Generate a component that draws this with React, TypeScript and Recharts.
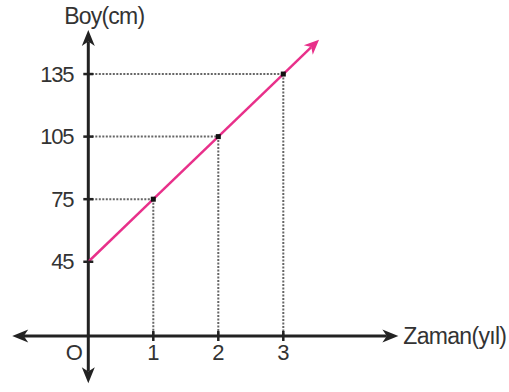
import React from 'react';
import { LineChart, Line, XAxis, YAxis, ReferenceLine } from 'recharts';

// ---- data ----
const years = [0, 1, 2, 3];
const heights = [45, 75, 105, 135];
const yTicks = [45, 75, 105, 135];
const xTicks = [0, 1, 2, 3];
const xTickLabels = ['O', '1', '2', '3'];
const trendTip = { x: 3.55, y: 151.5 };
const xAxisTitle = 'Zaman(yıl)';
const yAxisTitle = 'Boy(cm)';

// ---- layout (axis extents, in data units) ----
const X_DOMAIN: [number, number] = [0, 5];
const Y_DOMAIN: [number, number] = [9.4, 160];
const X_AXIS_LEVEL = 9.4;
const X_AXIS_EXTENT: [number, number] = [-1.17, 4.77];
const Y_AXIS_EXTENT: [number, number] = [-13.2, 156.1];

const table = years.map((y, i) => ({ year: y, height: heights[i] }));

const AXIS_COLOR = '#222';
const PINK = '#e8308a';
const FONT = '"Liberation Sans", Arial, Helvetica, sans-serif';
const TEXT_COLOR = '#333';

function arrowPoints(tx: number, ty: number, fx: number, fy: number, len: number, hw: number) {
  const dx = tx - fx;
  const dy = ty - fy;
  const d = Math.sqrt(dx * dx + dy * dy) || 1;
  const ux = dx / d;
  const uy = dy / d;
  const px = -uy;
  const py = ux;
  const bx = tx - ux * len;
  const by = ty - uy * len;
  const nx = tx - ux * len * 0.72;
  const ny = ty - uy * len * 0.72;
  return {
    pts: `${tx},${ty} ${bx + px * hw},${by + py * hw} ${nx},${ny} ${bx - px * hw},${by - py * hw}`,
    nx,
    ny,
  };
}

const XAxisShape = (p: any) => {
  const { x1, y1, x2, y2 } = p;
  const a = arrowPoints(x2, y2, x1, y1, 16, 6.5);
  const b = arrowPoints(x1, y1, x2, y2, 16, 6.5);
  return (
    <g>
      <line x1={b.nx} y1={b.ny} x2={a.nx} y2={a.ny} stroke={AXIS_COLOR} strokeWidth={3} />
      <polygon points={a.pts} fill={AXIS_COLOR} />
      <polygon points={b.pts} fill={AXIS_COLOR} />
      <text
        x={x2 + 5}
        y={y2}
        dominantBaseline="central"
        fontFamily={FONT}
        fontSize={23}
        letterSpacing={-0.7}
        fill={TEXT_COLOR}
      >
        {xAxisTitle}
      </text>
    </g>
  );
};

const YAxisShape = (p: any) => {
  const { x1, y1, x2, y2 } = p;
  const a = arrowPoints(x2, y2, x1, y1, 16, 6.5);
  const b = arrowPoints(x1, y1, x2, y2, 16, 6.5);
  return (
    <g>
      <line x1={b.nx} y1={b.ny} x2={a.nx} y2={a.ny} stroke={AXIS_COLOR} strokeWidth={3} />
      <polygon points={a.pts} fill={AXIS_COLOR} />
      <polygon points={b.pts} fill={AXIS_COLOR} />
      <text
        x={x2 + 16}
        y={y2 - 6}
        textAnchor="middle"
        fontFamily={FONT}
        fontSize={23}
        letterSpacing={-0.8}
        fill={TEXT_COLOR}
      >
        {yAxisTitle}
      </text>
    </g>
  );
};

const TrendArrowShape = (p: any) => {
  const { x1, y1, x2, y2 } = p;
  const a = arrowPoints(x2, y2, x1, y1, 15, 6.5);
  return (
    <g>
      <line x1={x1} y1={y1} x2={a.nx} y2={a.ny} stroke={PINK} strokeWidth={2.5} />
      <polygon points={a.pts} fill={PINK} />
    </g>
  );
};

const YTick = (p: any) => {
  const { x, y, payload } = p;
  return (
    <g>
      <line x1={x - 5} x2={x + 5} y1={y} y2={y} stroke={AXIS_COLOR} strokeWidth={2.5} />
      <text
        x={x - 15}
        y={y}
        textAnchor="end"
        dominantBaseline="central"
        fontFamily={FONT}
        fontSize={22}
        letterSpacing={-1.2}
        fill={TEXT_COLOR}
      >
        {payload.value}
      </text>
    </g>
  );
};

const XTick = (p: any) => {
  const { x, y, payload, index } = p;
  const label = xTickLabels[index] ?? String(payload.value);
  const isOrigin = payload.value === 0;
  return (
    <g>
      {!isOrigin && (
        <line x1={x} x2={x} y1={y - 5} y2={y + 5} stroke={AXIS_COLOR} strokeWidth={2.5} />
      )}
      <text
        x={isOrigin ? x - 14 : x}
        y={y + 16}
        textAnchor="middle"
        dominantBaseline="central"
        fontFamily={FONT}
        fontSize={22}
        fill={TEXT_COLOR}
      >
        {label}
      </text>
    </g>
  );
};

const PointDot = (p: any) => {
  const { cx, cy, index } = p;
  if (index === 0) return <g key={`d${index}`} />;
  return <rect key={`d${index}`} x={cx - 2.5} y={cy - 2.5} width={5} height={5} fill="#111" />;
};

export default function App() {
  return (
    <div style={{ position: 'absolute', left: 0, top: 0 }}>
      <LineChart
        width={509}
        height={392}
        data={table}
        margin={{ top: 21.9, right: 95.7, bottom: 26, left: 28.3 }}
      >
        <XAxis
          dataKey="year"
          type="number"
          domain={X_DOMAIN}
          allowDataOverflow
          ticks={xTicks}
          axisLine={false}
          tickLine={false}
          tickSize={0}
          tickMargin={0}
          height={30}
          tick={<XTick />}
          interval={0}
        />
        <YAxis
          type="number"
          domain={Y_DOMAIN}
          allowDataOverflow
          ticks={yTicks}
          axisLine={false}
          tickLine={false}
          tickSize={0}
          tickMargin={0}
          width={60}
          tick={<YTick />}
          interval={0}
        />
        {years.slice(1).map((yr, i) => (
          <ReferenceLine
            key={`h${yr}`}
            segment={[
              { x: 0, y: heights[i + 1] },
              { x: yr, y: heights[i + 1] },
            ]}
            stroke="#666"
            strokeWidth={2}
            strokeDasharray="2 1.5"
            ifOverflow="visible"
          />
        ))}
        {years.slice(1).map((yr, i) => (
          <ReferenceLine
            key={`v${yr}`}
            segment={[
              { x: yr, y: heights[i + 1] },
              { x: yr, y: X_AXIS_LEVEL },
            ]}
            stroke="#666"
            strokeWidth={2}
            strokeDasharray="2 1.5"
            ifOverflow="visible"
          />
        ))}
        <ReferenceLine
          segment={[
            { x: X_AXIS_EXTENT[0], y: X_AXIS_LEVEL },
            { x: X_AXIS_EXTENT[1], y: X_AXIS_LEVEL },
          ]}
          ifOverflow="visible"
          shape={<XAxisShape />}
        />
        <ReferenceLine
          segment={[
            { x: 0, y: Y_AXIS_EXTENT[0] },
            { x: 0, y: Y_AXIS_EXTENT[1] },
          ]}
          ifOverflow="visible"
          shape={<YAxisShape />}
        />
        <ReferenceLine
          segment={[
            { x: years[years.length - 1], y: heights[heights.length - 1] },
            { x: trendTip.x, y: trendTip.y },
          ]}
          ifOverflow="visible"
          shape={<TrendArrowShape />}
        />
        <Line
          dataKey="height"
          stroke={PINK}
          strokeWidth={2.5}
          dot={<PointDot />}
          activeDot={false}
          isAnimationActive={false}
        />
      </LineChart>
    </div>
  );
}
